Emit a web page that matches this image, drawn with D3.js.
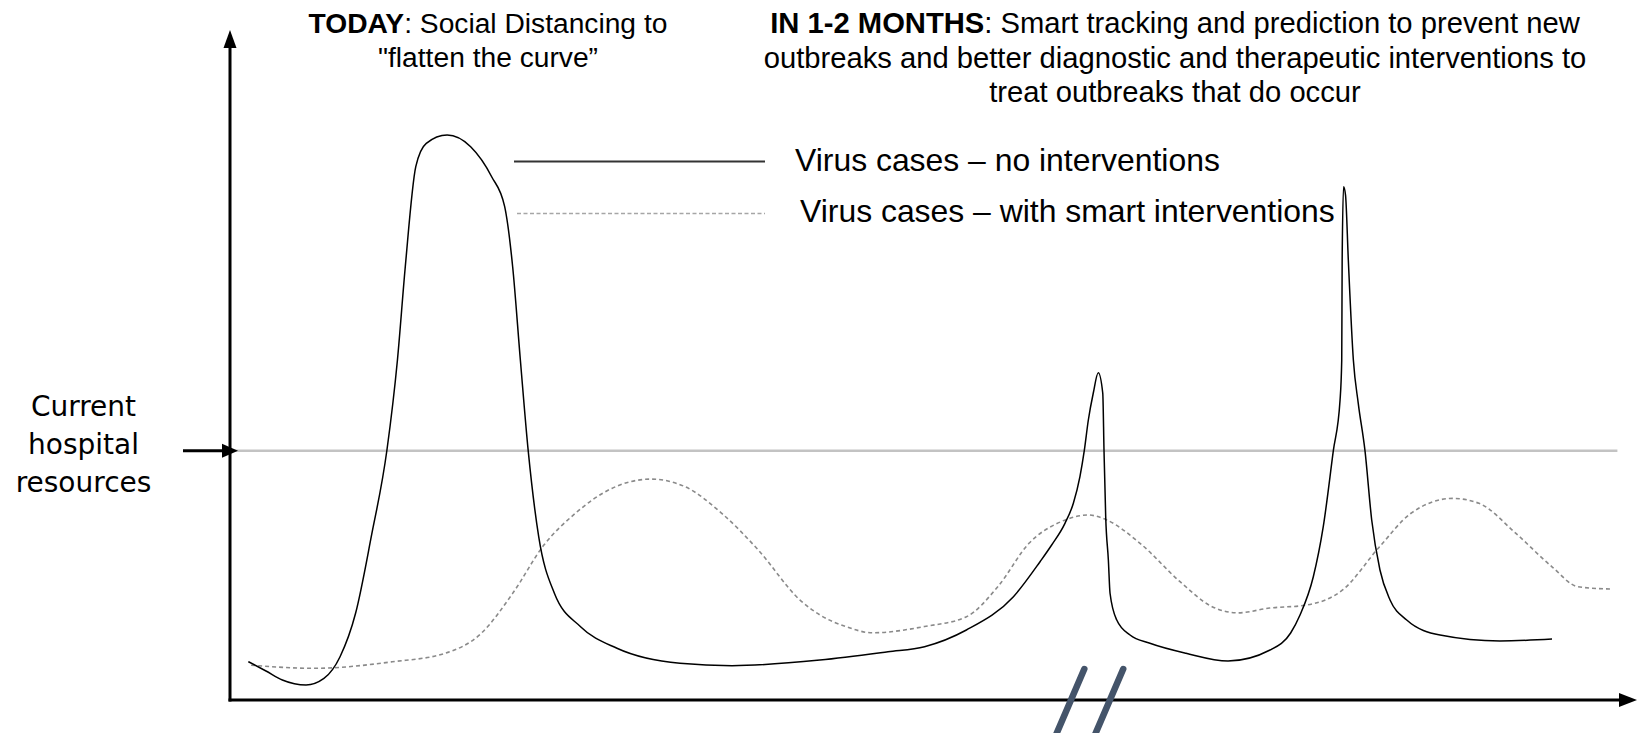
<!DOCTYPE html>
<html>
<head>
<meta charset="utf-8">
<script src="https://cdn.jsdelivr.net/npm/d3@7"></script>
<style>
  body { margin: 0; background: #fff; }
  svg { display: block; }
</style>
</head>
<body>
<div id="graph"></div>
<script>
// time (0-100) vs cases (0-100)
const noInterventions = [
  [1.31, 5.72], [2.57, 4.33], [3.74, 2.99], [5.43, 2.24], [6.71, 3.22], [7.86, 6.46],
  [8.97, 12.94], [10.09, 24.37], [11.21, 37.31], [11.96, 50.75], [12.52, 64.67],
  [13.27, 79.6], [14.02, 83.09], [15.51, 84.33], [17.19, 82.58], [18.69, 78.1],
  [19.62, 73.63], [20.19, 64.67], [20.74, 50.75], [21.3, 37.21], [22.05, 24.37],
  [23.17, 15.93], [25.04, 10.94], [27.64, 7.72], [32.14, 5.48], [35.86, 5.12],
  [42.14, 5.97], [47.0, 7.21], [49.61, 7.96], [52.6, 10.45], [55.96, 15.42],
  [57.86, 20.64], [58.69, 23.13], [59.64, 26.37], [60.24, 29.36], [60.71, 33.33],
  [61.02, 37.21], [61.31, 41.79], [61.66, 45.78], [62.02, 48.85], [62.34, 45.78],
  [62.43, 37.21], [62.55, 27.36], [62.74, 20.9], [62.86, 15.93], [63.34, 11.94],
  [64.29, 9.7], [65.71, 8.46], [68.29, 6.97], [71.29, 5.82], [74.29, 7.46],
  [75.76, 10.0], [76.43, 12.69], [77.38, 18.4], [78.09, 25.87], [78.81, 37.21],
  [79.29, 44.78], [79.41, 50.75], [79.44, 65.67], [79.54, 76.61], [79.68, 75.37],
  [79.88, 65.67], [80.24, 50.75], [80.59, 44.28], [81.07, 37.21], [81.55, 26.87],
  [82.14, 19.4], [82.86, 14.93], [84.05, 11.94], [86.43, 9.7], [90.71, 8.81], [94.43, 9.1]
];

const smartInterventions = [
  [1.51, 5.19], [5.99, 4.73], [11.59, 5.7], [15.32, 6.94], [17.94, 9.94], [20.19, 15.91],
  [22.42, 23.12], [24.66, 27.85], [27.27, 31.58], [30.07, 32.97], [32.49, 31.85],
  [35.13, 27.85], [37.74, 22.37], [40.72, 14.91], [42.14, 12.69], [43.97, 10.97],
  [45.88, 10.03], [49.61, 10.97], [52.6, 12.42], [54.84, 16.9], [57.09, 23.43],
  [59.34, 26.6], [61.31, 27.61], [62.62, 26.87], [65.0, 23.39], [67.86, 17.66],
  [70.15, 13.93], [72.01, 13.01], [74.25, 13.72], [76.86, 14.16], [79.47, 16.42],
  [82.11, 22.88], [84.36, 27.87], [87.34, 30.09], [89.21, 29.36], [91.83, 24.9],
  [94.43, 19.88], [96.29, 16.9], [98.71, 16.55]
];

// hospital capacity level and where it ends
const hospitalCapacity = 37.2;
const hospitalEnd = 99.1;

// "//" break marks on the time axis
const breakMarks = [60.07, 62.85];

// texts
const leftTitle = [["TODAY", ": Social Distancing to"], ["", "\"flatten the curve\u201D"]];
const rightTitle = [
  ["IN 1-2 MONTHS", ": Smart tracking and prediction to prevent new"],
  ["", "outbreaks and better diagnostic and therapeutic interventions to"],
  ["", "treat outbreaks that do occur"]
];
const legendLabels = ["Virus cases \u2013 no interventions", "Virus cases \u2013 with smart interventions"];
const capacityLabel = ["Current", "hospital", "resources"];

const w = 1637;
const h = 733;

const svg = d3.select("#graph")
  .append("svg")
  .attr("width", w)
  .attr("height", h);

// scales
const xScale = d3.scaleLinear().domain([0, 100]).range([230, 1630]);
const yScale = d3.scaleLinear().domain([0, 100]).range([700, 30]);

// hospital resources line
svg.append("line")
  .attr("x1", xScale(0))
  .attr("x2", xScale(hospitalEnd))
  .attr("y1", yScale(hospitalCapacity))
  .attr("y2", yScale(hospitalCapacity))
  .attr("stroke", "#c3c3c3")
  .attr("stroke-width", 2.5);

// curves
const line = d3.line()
  .x(d => xScale(d[0]))
  .y(d => yScale(d[1]))
  .curve(d3.curveMonotoneX);

svg.append("path")
  .attr("d", line(smartInterventions))
  .attr("fill", "none")
  .attr("stroke", "#8a8a8a")
  .attr("stroke-width", 1.6)
  .attr("stroke-dasharray", "4,3");

svg.append("path")
  .attr("d", line(noInterventions))
  .attr("fill", "none")
  .attr("stroke", "#000")
  .attr("stroke-width", 1.5);

// axes with arrow heads
const x0 = xScale(0), y0 = yScale(0);
const xEnd = xScale(100), yEnd = yScale(100);

svg.append("line")
  .attr("x1", x0).attr("y1", y0 + 1.5)
  .attr("x2", x0).attr("y2", yEnd + 14)
  .attr("stroke", "#000").attr("stroke-width", 3);
svg.append("path")
  .attr("d", `M${x0},${yEnd} L${x0 - 6.5},${yEnd + 18} L${x0 + 6.5},${yEnd + 18} Z`)
  .attr("fill", "#000");

svg.append("line")
  .attr("x1", x0 - 1.5).attr("y1", y0)
  .attr("x2", xEnd - 5).attr("y2", y0)
  .attr("stroke", "#000").attr("stroke-width", 3);
svg.append("path")
  .attr("d", `M${xEnd + 7},${y0} L${xEnd - 11},${y0 - 7} L${xEnd - 11},${y0 + 7} Z`)
  .attr("fill", "#000");

// arrow pointing at the capacity level
const hy = yScale(hospitalCapacity);
svg.append("line")
  .attr("x1", 183).attr("y1", hy)
  .attr("x2", x0 - 6).attr("y2", hy)
  .attr("stroke", "#000").attr("stroke-width", 3);
svg.append("path")
  .attr("d", `M${x0 + 8},${hy} L${x0 - 8},${hy - 7} L${x0 - 8},${hy + 7} Z`)
  .attr("fill", "#000");

// break marks
svg.selectAll(".brk")
  .data(breakMarks)
  .enter()
  .append("line")
  .attr("class", "brk")
  .attr("x1", d => xScale(d) + 0.43 * 31)
  .attr("y1", y0 - 31)
  .attr("x2", d => xScale(d) - 0.43 * 45)
  .attr("y2", y0 + 45)
  .attr("stroke", "#44546a")
  .attr("stroke-width", 6.5)
  .attr("stroke-linecap", "round");

// titles
function drawTitle(lines, cx, size, gap) {
  lines.forEach((ln, i) => {
    const t = svg.append("text")
      .attr("x", cx)
      .attr("y", 33 + i * gap)
      .attr("text-anchor", "middle")
      .style("font-family", "'Liberation Sans', Arial, sans-serif")
      .style("font-size", size + "px")
      .attr("fill", "#000");
    if (ln[0]) t.append("tspan").style("font-weight", "bold").text(ln[0]);
    t.append("tspan").text(ln[1]);
  });
}
drawTitle(leftTitle, 488, 28.2, 33.5);
drawTitle(rightTitle, 1175, 29.2, 34.5);

// legend
const legendY = [161.5, 213.5];
svg.append("line")
  .attr("x1", 514).attr("x2", 765)
  .attr("y1", legendY[0]).attr("y2", legendY[0])
  .attr("stroke", "#333").attr("stroke-width", 2);
svg.append("line")
  .attr("x1", 517).attr("x2", 765)
  .attr("y1", legendY[1]).attr("y2", legendY[1])
  .attr("stroke", "#a6a6a6").attr("stroke-width", 1.5)
  .attr("stroke-dasharray", "4,2.5");

svg.selectAll(".legend")
  .data(legendLabels)
  .enter()
  .append("text")
  .attr("class", "legend")
  .attr("x", (d, i) => i === 0 ? 795 : 800)
  .attr("y", (d, i) => i === 0 ? 170.5 : 221.5)
  .style("font-family", "'Liberation Sans', Arial, sans-serif")
  .style("font-size", "31.9px")
  .attr("fill", "#000")
  .text(d => d);

// capacity label
svg.selectAll(".cap")
  .data(capacityLabel)
  .enter()
  .append("text")
  .attr("class", "cap")
  .attr("x", 83.5)
  .attr("y", (d, i) => 415.5 + i * 38.2)
  .attr("text-anchor", "middle")
  .style("font-family", "'DejaVu Sans', sans-serif")
  .style("font-size", "28px")
  .attr("fill", "#000")
  .text(d => d);
</script>
</body>
</html>
